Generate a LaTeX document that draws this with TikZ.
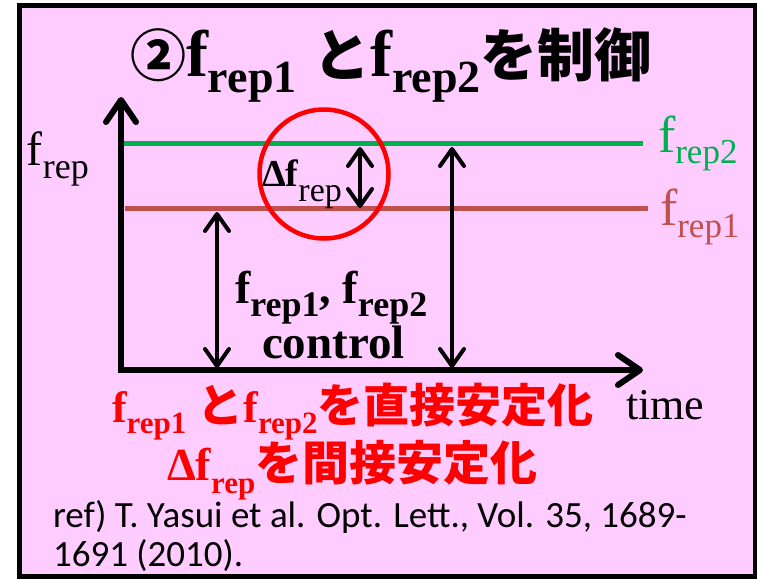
\documentclass[tikz,border=0pt]{standalone}
\usepackage{fontspec}
\setmainfont{Liberation Serif}
\newfontfamily\cjk{Noto Sans CJK JP}
\newfontfamily\calib{Carlito}
\usetikzlibrary{arrows.meta}
\definecolor{bgpink}{HTML}{FFCCFF}
\definecolor{lgreen}{HTML}{00B050}
\definecolor{lbrown}{HTML}{C0504D}
\newcommand\fs[1]{\fontsize{#1}{#1}\selectfont}
\newcommand\subt[3]{\raisebox{-#2}{\fs{#1}#3}}
\tikzset{
  lbl/.style={anchor=base west, inner sep=0pt, outer sep=0pt},
  axis/.style={line width=6pt, line join=miter,
    {Straight Barb[length=22pt,width=30pt,line cap=round,line join=round]}-{Straight Barb[length=22pt,width=30pt,line cap=round,line join=round]}},
  dbl/.style={line width=4pt,
    {Straight Barb[length=17pt,width=24pt,line cap=round,line join=round]}-{Straight Barb[length=17pt,width=24pt,line cap=round,line join=round]}},
  level/.style={line width=5pt},
}
\begin{document}
\begin{tikzpicture}[x=1pt,y=-1pt]
\useasboundingbox (0,0) rectangle (757,578);
\draw[line width=5pt, fill=bgpink] (19.5,5.5) rectangle (755,576.5);

% title
\node[lbl] (title) at (130,76) {\bfseries\cjk\fs{56pt}②\rmfamily\fs{66pt}f\subt{46pt}{17pt}{rep1}\fs{66pt}\ \cjk\fs{57pt}と\rmfamily\fs{66pt}f\subt{46pt}{17pt}{rep2}\cjk\fs{57pt}を制御};

% levels
\coordinate (g1) at (121,143);
\coordinate (g2) at (643,143);
\coordinate (r1) at (125,208);
\coordinate (r2) at (648,208);
\draw[level, lgreen] (g1) -- (g2);
\draw[level, lbrown] (r1) -- (r2);

% axes
\coordinate (ytop) at (121,97);
\coordinate (orig) at (121,370);
\coordinate (xend) at (643,370);
\draw[axis] (ytop) -- (orig) -- (xend);

% labels at the right
\node[lbl, text=lgreen] (lf2) at (658,152) {\fs{52pt}f\subt{35pt}{11pt}{rep2}};
\node[lbl, text=lbrown] (lf1) at (660,225) {\fs{52pt}f\subt{35pt}{12pt}{rep1}};
\node[lbl] (lfrep) at (27,165) {\fs{48pt}f\subt{36pt}{13pt}{rep}};
\node[lbl] (ltime) at (626,419) {\fs{44pt}time};

% red circle and delta
\node[draw=red, line width=4.5pt, circle, minimum size=129pt, inner sep=0pt] (circ) at (324,174) {};
\node[lbl] (ldelta) at (262,186) {\bfseries\fs{38pt}Δf\subt{34pt}{15pt}{\mdseries rep}};
\coordinate (d1) at (360,147);
\coordinate (d2) at (360,208);
\draw[dbl] (d1) -- (d2);

% control arrows
\coordinate (a1) at (217,212);
\coordinate (a2) at (217,368);
\draw[dbl] (a1) -- (a2);
\coordinate (b1) at (452,147);
\coordinate (b2) at (452,368);
\draw[dbl] (b1) -- (b2);
\node[lbl] (lc1) at (235,303) {\bfseries\fs{46pt}f\subt{36pt}{13pt}{rep1}, f\subt{36pt}{13pt}{rep2}};
\node[lbl] (lc2) at (262,358) {\bfseries\fs{47pt}control};

% red statements
\node[lbl, text=red] (st1) at (112,422) {\bfseries\fs{44pt}f\subt{31pt}{11pt}{rep1}\ \cjk\fs{46pt}と\rmfamily\fs{44pt}f\subt{31pt}{11pt}{rep2}\cjk\fs{46pt}を直接安定化};
\node[lbl, text=red] (st2) at (167,480) {\bfseries\fs{46pt}Δf\subt{31pt}{13pt}{rep}\cjk\fs{47pt}を間接安定化};

% reference
\node[lbl] (ref1) at (53,527) {\calib\fs{37pt}ref) T. Yasui et al. Opt. Lett., Vol. 35, 1689-};
\node[lbl] (ref2) at (53,566) {\calib\fs{37pt}1691 (2010).};
\end{tikzpicture}
\end{document}
